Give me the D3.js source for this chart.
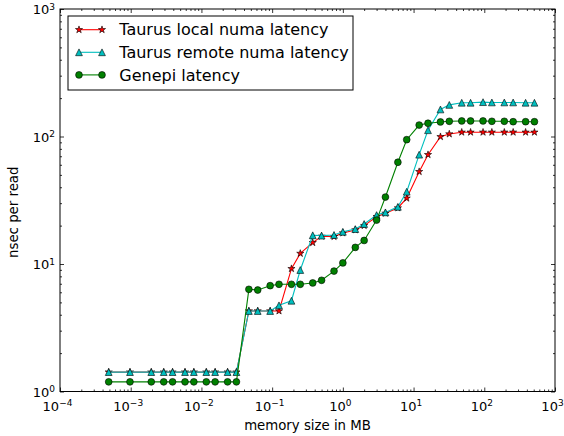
<!DOCTYPE html>
<html>
<head>
<meta charset="utf-8">
<script src="https://cdn.jsdelivr.net/npm/d3@7"></script>
<style>
body { margin: 0; background: #fff; }
text { font-family: "DejaVu Sans", sans-serif; fill: #000; }
</style>
</head>
<body>
<div id="chart"></div>
<script>
// memory sizes in MB (powers of two and 3*2^n)
var sizesMB = [0.00048828125, 0.0009765625, 0.001953125, 0.0029296875, 0.00390625,
    0.005859375, 0.0078125, 0.01171875, 0.015625, 0.0234375, 0.03125,
    0.046875, 0.0625, 0.09375, 0.125, 0.1875, 0.25, 0.375, 0.5, 0.75,
    1, 1.5, 2, 3, 4, 6, 8, 12, 16, 24, 32, 48, 64, 96, 128, 192, 256, 384, 512];

var localLatency = [1.42, 1.42, 1.42, 1.42, 1.42, 1.42, 1.42, 1.42, 1.42, 1.42, 1.42,
    4.28, 4.28, 4.28, 4.28, 9.19, 12.1, 14.7, 16.5, 16.4,
    17.5, 18.5, 20.0, 23.5, 25.0, 27.5, 32.8, 53, 72, 99.6,
    104.6, 108, 108, 108, 108, 108, 108, 108, 108];

var remoteLatency = [1.42, 1.42, 1.42, 1.42, 1.42, 1.42, 1.42, 1.42, 1.42, 1.42, 1.42,
    4.28, 4.28, 4.28, 4.74, 5.15, 8.97, 16.8, 16.7, 16.9,
    17.9, 18.8, 20.6, 24.2, 25.4, 28.1, 36.9, 72, 112, 163,
    177, 184, 184, 186, 185, 185, 185, 184, 184];

var genepiLatency = [1.19, 1.19, 1.19, 1.19, 1.19, 1.19, 1.19, 1.19, 1.19, 1.19, 1.19,
    6.33, 6.25, 6.76, 6.93, 6.93, 6.93, 7.1, 7.45, 8.8,
    10.2, 13.5, 15.3, 22.1, 33.5, 62.8, 94.4, 123, 127, 130,
    131.6, 132.4, 132.4, 132.4, 131.6, 131.6, 130.6, 130.6, 130.6];

var seriesNames = ["Taurus local numa latency", "Taurus remote numa latency", "Genepi latency"];
var xTickExps = [-4, -3, -2, -1, 0, 1, 2, 3];
var yTickExps = [0, 1, 2, 3];

var marg = {t: 9, r: 9, b: 44.5, l: 60};
var wid = 564 - marg.l - marg.r;
var hei = 436 - marg.t - marg.b;

var svg = d3.select("#chart")
    .append("svg")
    .attr("width", 564)
    .attr("height", 436)
    .append("g")
    .attr("transform", "translate(" + marg.l + "," + marg.t + ")");

var xscale = d3.scaleLog()
    .domain([1e-4, 1e3])
    .range([0, wid]);

var yscale = d3.scaleLog()
    .domain([1, 1e3])
    .range([hei, 0]);

var series = [
    {name: seriesNames[0], values: localLatency, color: "#ff0000", marker: "star"},
    {name: seriesNames[1], values: remoteLatency, color: "#00bfbf", marker: "tri"},
    {name: seriesNames[2], values: genepiLatency, color: "#008000", marker: "circle"}
];

function markerPath(type) {
    if (type == "star") return d3.symbol(d3.symbolStar, 16)();
    if (type == "tri") return "M0,-3.4L3.4,3.4L-3.4,3.4Z";
    return d3.symbol(d3.symbolCircle, Math.PI * 3.4 * 3.4)();
}

// minor tick values
function minors(lo, hi) {
    var out = [];
    for (var e = lo; e < hi; e++) {
        for (var k = 2; k < 10; k++) out.push(k * Math.pow(10, e));
    }
    return out;
}
var xMajors = xTickExps.map(function(e) { return Math.pow(10, e); });
var yMajors = yTickExps.map(function(e) { return Math.pow(10, e); });

function addTicks(axisFn, scale, vals, size, transform) {
    var g = svg.append("g")
        .attr("transform", transform)
        .call(axisFn(scale).tickValues(vals).tickSize(-size).tickSizeOuter(0).tickFormat(""));
    g.select(".domain").remove();
    g.selectAll("line").attr("stroke", "#000").attr("stroke-width", 0.8);
}

// data
var line = d3.line()
    .x(function(d) { return xscale(d[0]); })
    .y(function(d) { return yscale(d[1]); });

series.forEach(function(s) {
    var pts = sizesMB.map(function(x, i) { return [x, s.values[i]]; });
    svg.append("path")
        .datum(pts)
        .attr("fill", "none")
        .attr("stroke", s.color)
        .attr("stroke-width", 1.1)
        .attr("d", line);
    svg.append("g").selectAll("path")
        .data(pts)
        .enter().append("path")
        .attr("transform", function(d) {
            return "translate(" + xscale(d[0]) + "," + yscale(d[1]) + ")";
        })
        .attr("d", markerPath(s.marker))
        .attr("fill", s.color)
        .attr("stroke", "#000")
        .attr("stroke-width", 0.6);
});

// ticks, inward on all four sides
addTicks(d3.axisBottom, xscale, xMajors, 4, "translate(0," + hei + ")");
addTicks(d3.axisBottom, xscale, minors(-4, 3), 2, "translate(0," + hei + ")");
addTicks(d3.axisTop, xscale, xMajors, 4, "translate(0,0)");
addTicks(d3.axisTop, xscale, minors(-4, 3), 2, "translate(0,0)");
addTicks(d3.axisLeft, yscale, yMajors, 4, "translate(0,0)");
addTicks(d3.axisLeft, yscale, minors(0, 3), 2, "translate(0,0)");
addTicks(d3.axisRight, yscale, yMajors, 4, "translate(" + wid + ",0)");
addTicks(d3.axisRight, yscale, minors(0, 3), 2, "translate(" + wid + ",0)");

svg.append("rect")
    .attr("width", wid)
    .attr("height", hei)
    .attr("fill", "none")
    .attr("stroke", "#000")
    .attr("stroke-width", 1);

// tick labels as 10^n
function expLabel(sel, e) {
    sel.append("tspan").text("10");
    sel.append("tspan")
        .attr("dy", "-0.5em")
        .style("font-size", "9px")
        .text(e < 0 ? "\u2212" + (-e) : "" + e);
}

xTickExps.forEach(function(e) {
    var t = svg.append("text")
        .attr("x", xscale(Math.pow(10, e)) - 2.5)
        .attr("y", hei + 19)
        .style("font-size", "13px")
        .style("text-anchor", "middle");
    expLabel(t, e);
});

yTickExps.forEach(function(e) {
    var t = svg.append("text")
        .attr("x", -5)
        .attr("y", yscale(Math.pow(10, e)) + 5)
        .style("font-size", "13px")
        .style("text-anchor", "end");
    expLabel(t, e);
});

svg.append("text")
    .attr("x", wid / 2)
    .attr("y", hei + 38)
    .style("font-size", "13.3px")
    .style("text-anchor", "middle")
    .text("memory size in MB");

svg.append("text")
    .attr("transform", "rotate(-90)")
    .attr("x", -hei / 2 - 12)
    .attr("y", -42)
    .style("font-size", "13.3px")
    .style("text-anchor", "middle")
    .text("nsec per read");

// legend
var legend = svg.append("g")
    .attr("transform", "translate(8,7)");

legend.append("rect")
    .attr("width", 285)
    .attr("height", 74)
    .attr("fill", "#fff")
    .attr("stroke", "#000")
    .attr("stroke-width", 1);

var items = legend.selectAll(".legend")
    .data(series)
    .enter().append("g")
    .attr("class", "legend")
    .attr("transform", function(d, i) {
        return "translate(0," + (13.7 + i * 22.6) + ")";
    });

items.append("line")
    .attr("x1", 11)
    .attr("x2", 34)
    .attr("stroke", function(d) { return d.color; })
    .attr("stroke-width", 1.1);

items.each(function(d) {
    var g = d3.select(this);
    [11, 34].forEach(function(px) {
        g.append("path")
            .attr("transform", "translate(" + px + ",0)")
            .attr("d", markerPath(d.marker))
            .attr("fill", d.color)
            .attr("stroke", "#000")
            .attr("stroke-width", 0.6);
    });
});

items.append("text")
    .attr("x", 51.3)
    .attr("dy", ".36em")
    .style("font-size", "16px")
    .text(function(d) { return d.name; });
</script>
</body>
</html>
